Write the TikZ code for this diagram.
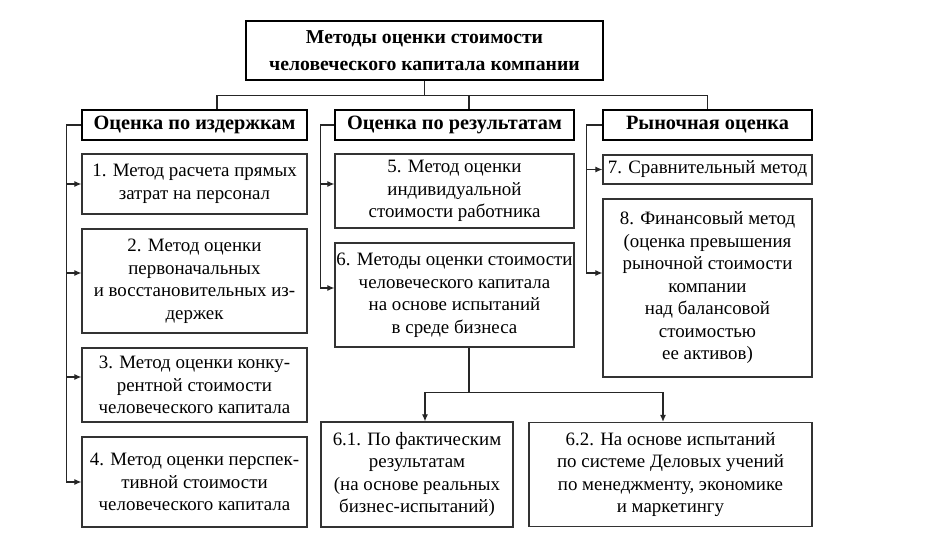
\documentclass[tikz,border=0pt]{standalone}
\usepackage{fontspec}
\setmainfont{Liberation Serif}
\usepackage{tikz}
\usetikzlibrary{positioning, arrows.meta, calc}

\tikzset{
    topbox/.style={draw=black, line width=1.6pt, align=center, inner sep=0pt,
        font=\fontsize{19.7}{26.5}\selectfont\bfseries},
    headbox/.style={draw=black, line width=1.6pt, align=center, inner sep=0pt,
        minimum height=30pt, font=\fontsize{20.3}{22}\selectfont\bfseries},
    itembox/.style={draw=black!80, line width=1.2pt, align=center, inner sep=0pt,
        font=\fontsize{18.9}{22.5}\selectfont},
    link/.style={draw=black!85, line width=1.1pt},
    arrowlink/.style={link, -{Latex[length=7pt,width=6pt]}}
}

\begin{document}
\begin{tikzpicture}[x=1pt, y=-1pt]
    \useasboundingbox (0,0) rectangle (939,541);

    % top
    \node[topbox, minimum width=357pt, minimum height=59pt] (top) at (424.5,50.5)
        {Методы оценки стоимости\\человеческого капитала компании};

    % column heads
    \node[headbox, minimum width=225pt] (h1) at (194.5,125) {Оценка по издержкам};
    \node[headbox, minimum width=239pt] (h2) at (454.5,125) {Оценка по результатам};
    \node[headbox, minimum width=209pt] (h3) at (707.5,125) {Рыночная оценка};

    % first column
    \node[itembox, minimum width=225pt, minimum height=60pt] (b1) at (194.5,184)
        {1. Метод расчета прямых\\затрат на персонал};
    \node[itembox, minimum width=225pt, minimum height=104pt] (b2) at (194.5,281)
        {2. Метод оценки\\первоначальных\\и восстановительных из-\\держек};
    \node[itembox, minimum width=225pt, minimum height=74pt] (b3) at (194.5,385)
        {3. Метод оценки конку-\\рентной стоимости\\человеческого капитала};
    \node[itembox, minimum width=225pt, minimum height=90pt] (b4) at (194.5,482)
        {4. Метод оценки перспек-\\тивной стоимости\\человеческого капитала};

    % second column
    \node[itembox, minimum width=239pt, minimum height=74pt] (b5) at (454.5,191)
        {5. Метод оценки\\индивидуальной\\стоимости работника};
    \node[itembox, minimum width=239pt, minimum height=104pt] (b6) at (454.5,295)
        {6. Методы оценки стоимости\\человеческого капитала\\на основе испытаний\\в среде бизнеса};
    \node[itembox, minimum width=192pt, minimum height=105pt] (b61) at (417,474.5)
        {6.1. По фактическим\\результатам\\(на основе реальных\\бизнес-испытаний)};
    \node[itembox, minimum width=283pt, minimum height=104pt] (b62) at (670.5,474.5)
        {6.2. На основе испытаний\\по системе Деловых учений\\по менеджменту, экономике\\и маркетингу};

    % third column
    \node[itembox, minimum width=209pt, minimum height=29pt] (b7) at (707.5,169.5)
        {7. Сравнительный метод};
    \node[itembox, minimum width=209pt, minimum height=178pt] (b8) at (707.5,288)
        {8. Финансовый метод\\(оценка превышения\\рыночной стоимости\\компании\\над балансовой\\стоимостью\\ее активов)};

    % bus under the top box
    \draw[link] (top.south) -- ++(0,15) coordinate (bus);
    \draw[link] ([xshift=22.5pt]h1.north) |- (bus);
    \draw[link] ([xshift=14.5pt]h2.north) |- (bus);
    \draw[link] (h3.north) |- (bus);

    % spines on the left of each column
    \draw[link] (h1.west) -- ++(-15,0) coordinate (s1);
    \draw[link] (h2.west) -- ++(-14,0) coordinate (s2);
    \draw[link] (h3.west) -- ++(-16,0) coordinate (s3);
    \foreach \spine/\target/\dy in {
        s1/b1/0, s1/b2/8, s1/b3/8, s1/b4/0,
        s2/b5/7, s2/b6/7,
        s3/b7/0, s3/b8/15}{
        \draw[arrowlink] (\spine) |- ([yshift=\dy pt]\target.west);
    }

    % split of method 6
    \draw[link] ([xshift=14.5pt]b6.south) -- ++(0,45) coordinate (split);
    \draw[arrowlink] (split) -| ([xshift=8pt]b61.north);
    \draw[arrowlink] (split) -| ([xshift=-7.5pt]b62.north);
\end{tikzpicture}
\end{document}
